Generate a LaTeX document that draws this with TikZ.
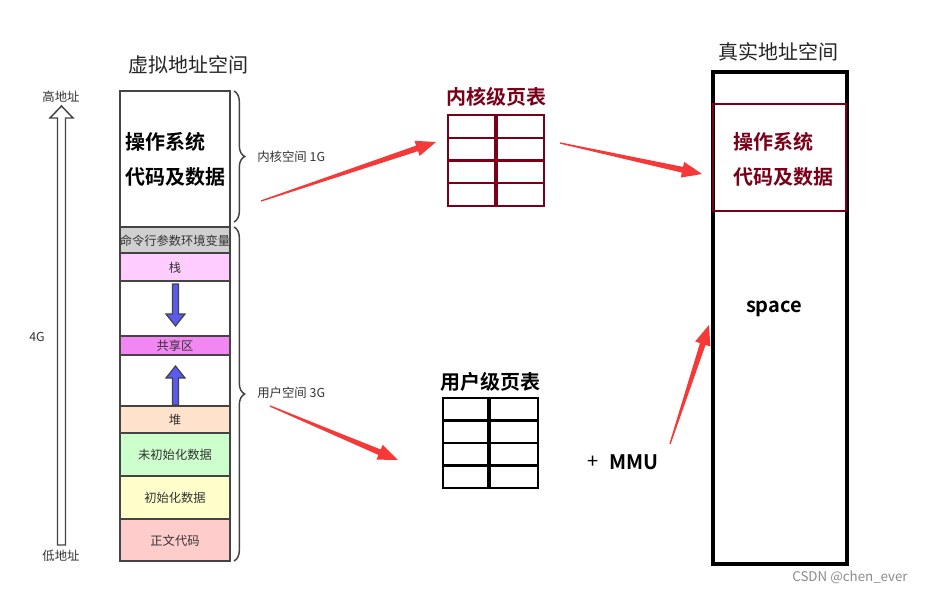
\documentclass[tikz,border=0pt]{standalone}
\usepackage{fontspec}
\setmainfont{Noto Sans CJK SC}[BoldFont={Noto Sans CJK SC Bold}]
\usetikzlibrary{decorations.pathreplacing,arrows.meta,calc}
\definecolor{segc}{HTML}{444444}
\definecolor{txt}{HTML}{333333}
\definecolor{maroon}{HTML}{7A0019}
\definecolor{arrred}{HTML}{F53838}
\definecolor{cgray}{HTML}{D0D0D0}
\definecolor{cpink}{HTML}{FFCCFF}
\definecolor{cmag}{HTML}{F286F2}
\definecolor{cpeach}{HTML}{FFE2CC}
\definecolor{cgreen}{HTML}{CCFFCC}
\definecolor{cyellow}{HTML}{FFFFCC}
\definecolor{crose}{HTML}{FFCCCC}
\definecolor{cblue}{HTML}{5A5AF0}
\newcommand\taperarrow[2]{%
  \coordinate (hb) at ($(#2)!15pt!(#1)$);
  \fill[arrred] ($(#1)!0.5pt!90:(#2)$) -- ($(hb)!2.2pt!-90:(#1)$) -- ($(hb)!6pt!-90:(#1)$)
    -- (#2) -- ($(hb)!6pt!90:(#1)$) -- ($(hb)!2.2pt!90:(#1)$) -- ($(#1)!0.5pt!-90:(#2)$) -- cycle;}
\begin{document}
\begin{tikzpicture}[x=0.75pt,y=-0.75pt,
  seg/.style={draw=segc, line width=1.1pt},
  lbl/.style={font=\fontsize{9.2}{11}\selectfont, text=txt, inner sep=0pt},
  small/.style={font=\fontsize{9.3}{11}\selectfont, text=txt, inner sep=0pt},
  title/.style={font=\fontsize{15}{18}\selectfont, text=black!85, inner sep=0pt},
  big/.style={font=\fontsize{15}{18}\selectfont\bfseries, inner sep=0pt},
  brc/.style={draw=segc, line width=1.1pt, decorate, decoration={brace, amplitude=8pt}},
  ktab/.style={draw=maroon, line width=1.6pt},
  utab/.style={draw=black, line width=1.6pt},
  blue/.style={draw=segc, fill=cblue, line width=0.9pt, line join=miter}
]
\useasboundingbox[fill=white] (0,0) rectangle (926,592);

% ---------- titles ----------
\node[title] (vtitle) at (188,65) {虚拟地址空间};
\node[title] (rtitle) at (778,52) {真实地址空间};

% ---------- virtual address space ----------
\draw[seg, fill=white]   (120,91)  rectangle (230,227);
\draw[seg, fill=cgray]   (120,227) rectangle (230,253);
\draw[seg, fill=cpink]   (120,253) rectangle (230,281);
\draw[seg, fill=white]   (120,281) rectangle (230,336);
\draw[seg, fill=cmag]    (120,336) rectangle (230,355);
\draw[seg, fill=white]   (120,355) rectangle (230,406);
\draw[seg, fill=cpeach]  (120,406) rectangle (230,433);
\draw[seg, fill=cgreen]  (120,433) rectangle (230,476);
\draw[seg, fill=cyellow] (120,476) rectangle (230,519);
\draw[seg, fill=crose]   (120,519) rectangle (230,561);

\node[big, anchor=west] (os1) at (125,142) {操作系统};
\node[big, anchor=west] (os2) at (125,177) {代码及数据};
\node[lbl] (cmd)   at (175,241) {命令行参数环境变量};
\node[lbl] (stack) at (175,268) {栈};
\node[lbl] (shm)   at (175,346) {共享区};
\node[lbl] (heap)  at (175,420) {堆};
\node[lbl] (bss)   at (175,455) {未初始化数据};
\node[lbl] (data)  at (175,498) {初始化数据};
\node[lbl] (text)  at (175,541) {正文代码};

% blue arrows
\draw[blue] (172.5,284) -- (178.5,284) -- (178.5,314) -- (185,314) -- (175.5,326)
  -- (166,314) -- (172.5,314) -- cycle;
\draw[blue] (172.5,405) -- (178.5,405) -- (178.5,378) -- (185,378) -- (175.5,366)
  -- (166,378) -- (172.5,378) -- cycle;

% braces
\draw[brc] (234,91) -- (234,222) coordinate[midway] (kb);
\draw[brc] (234,227) -- (234,561) coordinate[midway] (ub);
\node[small, anchor=west] (klbl) at (257,157) {内核空间 1G};
\node[small, anchor=west] (ulbl) at (257,393) {用户空间 3G};

% address arrow
\draw[draw=segc, fill=white, line width=1.1pt, line join=miter]
  (57.5,545) -- (57.5,118) -- (50,118) -- (61.5,106) -- (73,118) -- (65.5,118) -- (65.5,545) -- cycle;
\node[small] (hi) at (61,97) {高地址};
\node[small] (lo) at (61,556) {低地址};
\node[small] (g4) at (37,337) {4G};

% ---------- kernel page table ----------
\node[big, text=maroon] (ktitle) at (496,97) {内核级页表};
\draw[ktab] (448,138) -- (544,138) (448,160.5) -- (544,160.5) (448,183) -- (544,183);
\draw[ktab, line width=2.6pt] (496,115) -- (496,206);
\draw[ktab, line width=2pt] (448,115) rectangle (544,206);
\coordinate (ktl) at (436,142);
\coordinate (ktr) at (560,143);

% ---------- user page table ----------
\node[big] (utitle) at (490,382) {用户级页表};
\draw[utab] (443,420.5) -- (538,420.5) (443,443) -- (538,443) (443,465.5) -- (538,465.5);
\draw[utab, line width=2.6pt] (489,398) -- (489,488);
\draw[utab, line width=2pt] (443,398) rectangle (538,488);
\coordinate (utl) at (398,460);

% ---------- real address space ----------
\draw[draw=black, line width=2.8pt] (713,72) rectangle (847,564);
\draw[draw=maroon, line width=2pt] (713,104) rectangle (846,211);
\node[big, text=maroon, anchor=west] (ros1) at (733,142) {操作系统};
\node[big, text=maroon, anchor=west] (ros2) at (733,177) {代码及数据};
\node[big, anchor=base] (space) at (774,312) {space};
\coordinate (rin) at (702,174);
\coordinate (rlow) at (709,325);

% MMU
\node[font=\fontsize{15}{18}\selectfont, inner sep=0pt, anchor=west] (plus) at (587,462) {+};
\node[big, anchor=west] (mmu) at (609,462) {MMU};
\coordinate (mmut) at (670,444);

% ---------- red arrows ----------
\coordinate (a1s) at (261,201);
\coordinate (a3s) at (270,406);
\taperarrow{a1s}{ktl}
\taperarrow{ktr}{rin}
\taperarrow{a3s}{utl}
\taperarrow{mmut}{rlow}

% watermark
\node[font=\fontsize{10}{12}\selectfont, text=black!45, inner sep=0pt] (wm) at (850,577) {CSDN @chen\_ever};
\end{tikzpicture}
\end{document}
